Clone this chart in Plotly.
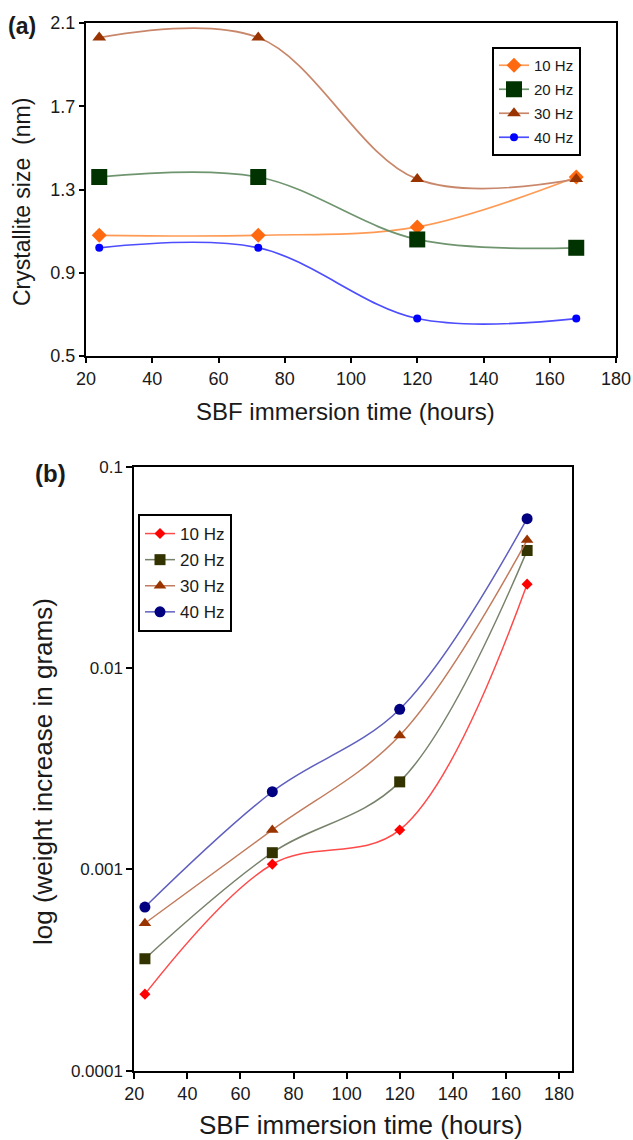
import plotly.graph_objects as go

# Immersion times (hours)
hours = [24, 72, 120, 168]
freq_labels = ["10 Hz", "20 Hz", "30 Hz", "40 Hz"]

# (a) crystallite size (nm)
size_10 = [1.08, 1.08, 1.12, 1.36]
size_20 = [1.36, 1.36, 1.06, 1.02]
size_30 = [2.03, 2.03, 1.35, 1.35]
size_40 = [1.02, 1.02, 0.68, 0.68]

# (b) weight increase (g)
gain_10 = [0.00024, 0.00106, 0.00157, 0.0261]
gain_20 = [0.00036, 0.00121, 0.00272, 0.0383]
gain_30 = [0.00054, 0.00157, 0.00462, 0.0432]
gain_40 = [0.00065, 0.00243, 0.00624, 0.0552]

x_ticks = [20, 40, 60, 80, 100, 120, 140, 160, 180]
size_ticks = [0.5, 0.9, 1.3, 1.7, 2.1]
size_tick_text = ["0.5", "0.9", "1.3", "1.7", "2.1"]
gain_ticks = [0.0001, 0.001, 0.01, 0.1]
gain_tick_text = ["0.0001", "0.001", "0.01", "0.1"]

FONT = "Liberation Sans, Arial, sans-serif"
INK = "#1a1a1a"

fig = go.Figure()

top_styles = [
    dict(line="#ff9a55", marker="#ff6a10", symbol="diamond", size=11.5),
    dict(line="#6f956f", marker="#003300", symbol="square", size=16),
    dict(line="#c8876a", marker="#993300", symbol="triangle-up", size=12),
    dict(line="#4d4dff", marker="#0000ff", symbol="circle", size=8),
]
bot_styles = [
    dict(line="#ff4a4a", marker="#ff0000", symbol="diamond", size=8.5),
    dict(line="#77826b", marker="#333300", symbol="square", size=11),
    dict(line="#c27b5c", marker="#993300", symbol="triangle-up", size=11),
    dict(line="#5f5fbf", marker="#000080", symbol="circle", size=11),
]

for name, ys, st in zip(freq_labels, [size_10, size_20, size_30, size_40], top_styles):
    fig.add_trace(go.Scatter(
        x=hours, y=ys, name=name, mode="lines+markers",
        line=dict(color=st["line"], width=1.7, shape="spline", smoothing=1),
        marker=dict(color=st["marker"], symbol=st["symbol"], size=st["size"],
                    line=dict(width=0)),
        xaxis="x", yaxis="y", legend="legend", legendgroup="a" + name,
    ))

for name, ys, st in zip(freq_labels, [gain_10, gain_20, gain_30, gain_40], bot_styles):
    fig.add_trace(go.Scatter(
        x=hours, y=ys, name=name, mode="lines+markers",
        line=dict(color=st["line"], width=1.5, shape="spline", smoothing=1),
        marker=dict(color=st["marker"], symbol=st["symbol"], size=st["size"],
                    line=dict(width=0)),
        xaxis="x2", yaxis="y2", legend="legend2", legendgroup="b" + name,
    ))

H = 1140.0
W = 633.0

axis_common = dict(
    showgrid=False, zeroline=False, showline=True, mirror=True,
    linecolor="black", linewidth=2, ticks="outside", ticklen=5,
    tickwidth=1.5, tickcolor="black", automargin=False,
)


def label(text, x_px, y_px, size, angle=0):
    return dict(text=text, x=x_px / W, y=(H - y_px) / H, xref="paper", yref="paper",
                xanchor="center", yanchor="middle", showarrow=False, textangle=angle,
                font=dict(size=size, family=FONT, color=INK))


fig.update_layout(
    width=633, height=1140,
    margin=dict(l=0, r=0, t=0, b=0, pad=0, autoexpand=False),
    paper_bgcolor="white", plot_bgcolor="white",
    font=dict(family=FONT, color=INK),
    xaxis=dict(
        domain=[86 / W, 616 / W], range=[20, 180], tickvals=x_ticks,
        tickfont=dict(size=18, family=FONT, color=INK), anchor="y",
        **axis_common,
    ),
    yaxis=dict(
        domain=[(H - 356) / H, (H - 23) / H], range=[0.5, 2.1],
        tickvals=size_ticks, ticktext=size_tick_text,
        tickfont=dict(size=18, family=FONT, color=INK), anchor="x",
        **axis_common,
    ),
    xaxis2=dict(
        domain=[134.3 / W, 571.7 / W], range=[20, 184.8], tickvals=x_ticks,
        tickfont=dict(size=18, family=FONT, color=INK), anchor="y2",
        **{**axis_common, "ticklen": 6},
    ),
    yaxis2=dict(
        domain=[(H - 1070.7) / H, (H - 466.7) / H], type="log", range=[-4, -1],
        tickvals=gain_ticks, ticktext=gain_tick_text,
        tickfont=dict(size=17, family=FONT, color=INK), anchor="x2",
        **{**axis_common, "ticklen": 6},
    ),
    legend=dict(
        x=492 / W, y=(H - 47) / H, xanchor="left", yanchor="top",
        bgcolor="white", bordercolor="black", borderwidth=2,
        font=dict(size=15, family=FONT, color=INK),
        tracegroupgap=1.5, itemwidth=30,
    ),
    legend2=dict(
        x=138 / W, y=(H - 514) / H, xanchor="left", yanchor="top",
        bgcolor="white", bordercolor="black", borderwidth=2,
        font=dict(size=17, family=FONT, color=INK),
        tracegroupgap=1, itemwidth=30,
    ),
    annotations=[
        label("<b>(a)</b>", 22, 26, 23),
        label("<b>(b)</b>", 50, 474, 24),
        label("SBF immersion time (hours)", 345, 411, 24),
        label("Crystallite size  (nm)", 22, 202, 23, -90),
        label("SBF immersion time (hours)", 361, 1125, 26),
        label("log (weight increase in grams)", 43, 772, 26, -90),
    ],
)

# Page body without the default browser margin so the figure sits at 0,0
fig.write_html("out.html", post_script="document.body.style.margin='0';")
